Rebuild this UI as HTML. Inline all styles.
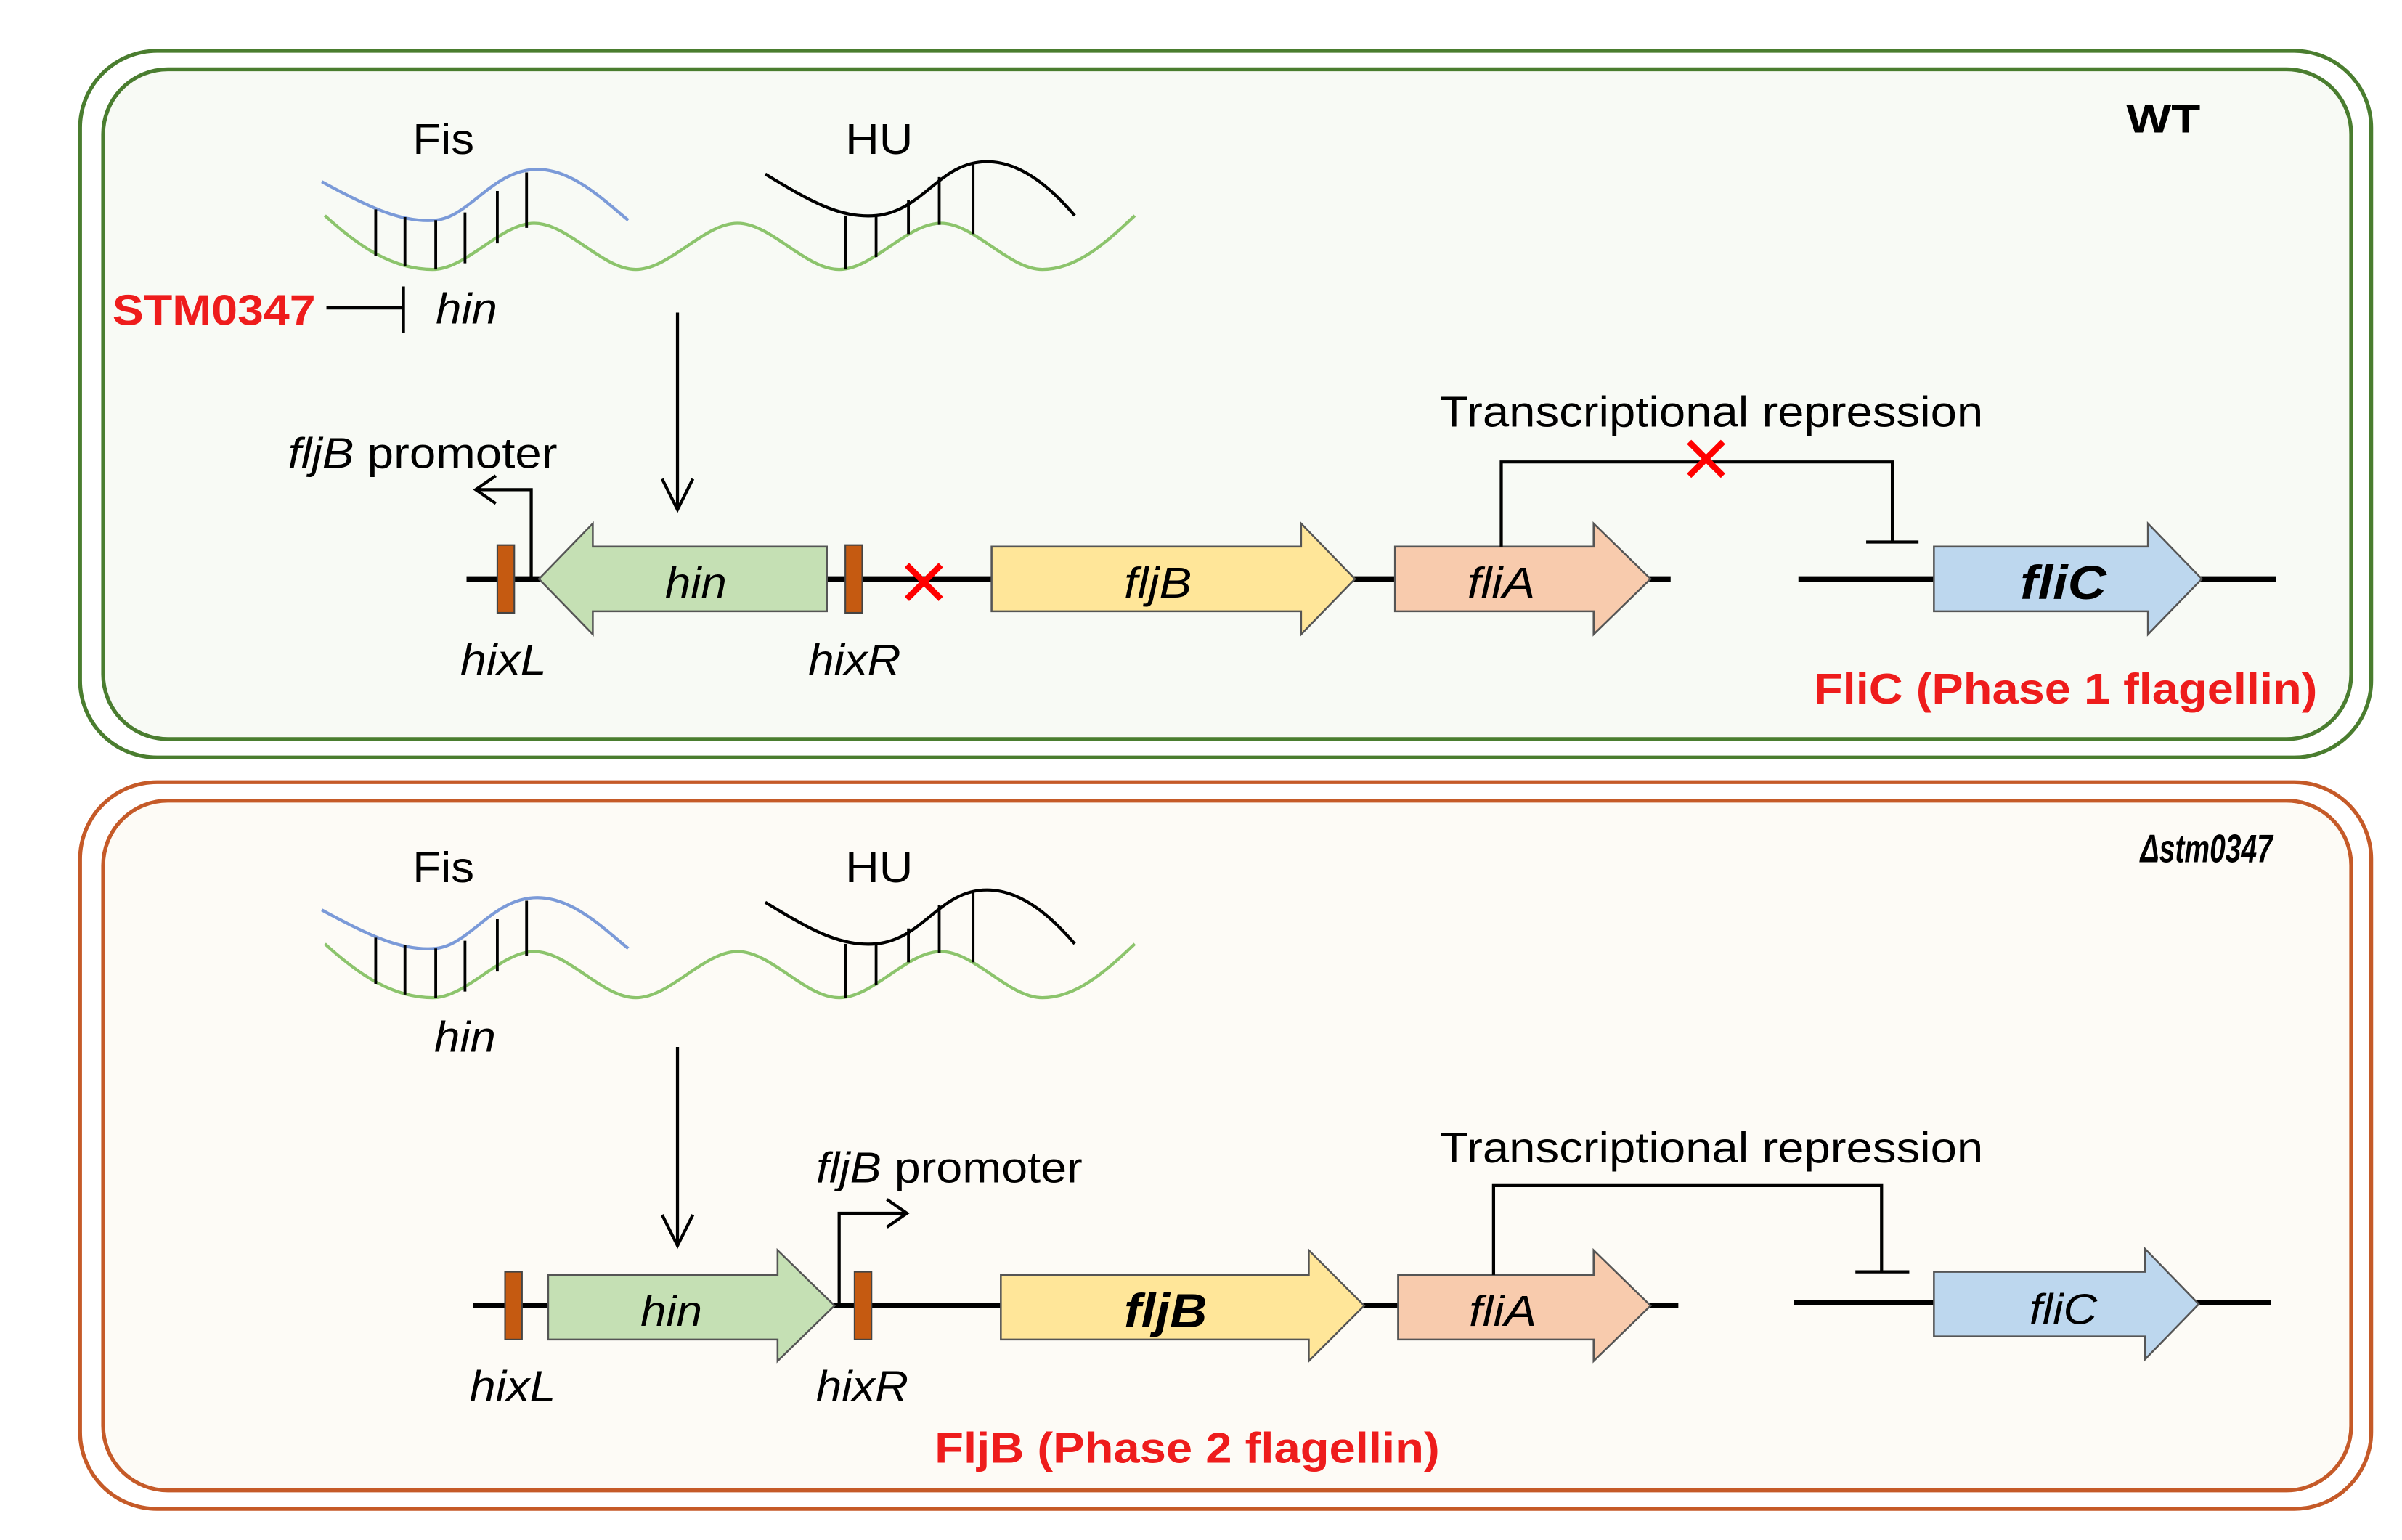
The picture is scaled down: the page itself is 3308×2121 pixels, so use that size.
<!DOCTYPE html>
<html><head><meta charset="utf-8"><style>
html,body{margin:0;padding:0;background:#fff;}
svg{display:block;}
text{font-family:"Liberation Sans",Arial,sans-serif;}
</style></head><body>
<svg width="3308" height="2121" viewBox="0 0 1560 1000.2" xmlns="http://www.w3.org/2000/svg">
<defs>
<g id="waves">
<path d="M211,140 C233,160 255,175 281,175 C303,175 325,145 347,145 C369,145 391,175 413,175 C435,175 457,145 479,145 C501,145 523,175 545,175 C567,175 589,145 611,145 C633,145 655,175 677,175 C699,175 718,158 737,140" fill="none" stroke="#8cc46c" stroke-width="2"/>
<path d="M209,118 C240,135 262,145 283,143 C305,141 320,110 349,110 C372,110 392,130 408,143" fill="none" stroke="#7b9ad8" stroke-width="2"/>
<path d="M497,113 C525,130 545,142 569,140 C600,137 610,105 641,105 C665,105 685,125 698,140" fill="none" stroke="#000" stroke-width="2"/>
<g stroke="#000" stroke-width="1.8">
<line x1="244" y1="136" x2="244" y2="166"/>
<line x1="263" y1="141" x2="263" y2="173"/>
<line x1="283" y1="143" x2="283" y2="175"/>
<line x1="302" y1="138" x2="302" y2="171"/>
<line x1="323" y1="124" x2="323" y2="158"/>
<line x1="342" y1="112" x2="342" y2="148"/>
<line x1="549" y1="140" x2="549" y2="175"/>
<line x1="569" y1="140" x2="569" y2="167"/>
<line x1="590" y1="130" x2="590" y2="152"/>
<line x1="610" y1="115" x2="610" y2="146"/>
<line x1="632" y1="106" x2="632" y2="152"/>
</g>
</g>
</defs>

<rect x="52" y="33" width="1488" height="459" rx="50" fill="#fff" stroke="#4a7d2f" stroke-width="2.5"/>
<rect x="67" y="45" width="1460" height="435" rx="42" fill="#f8faf5" stroke="#4a7d2f" stroke-width="2.5"/>
<rect x="52" y="508" width="1488" height="472" rx="50" fill="#fff" stroke="#c55a28" stroke-width="2.5"/>
<rect x="67" y="520" width="1460" height="448" rx="42" fill="#fdfbf6" stroke="#c55a28" stroke-width="2.5"/>

<!-- Panel 1 -->
<text x="288" y="100" font-size="28" text-anchor="middle" textLength="40" lengthAdjust="spacingAndGlyphs">Fis</text>
<text x="571" y="100" font-size="28" text-anchor="middle" textLength="44" lengthAdjust="spacingAndGlyphs">HU</text>
<use href="#waves"/>
<text x="73" y="211" font-size="28" font-weight="bold" fill="#ee1c1c" textLength="132" lengthAdjust="spacingAndGlyphs">STM0347</text>
<line x1="212" y1="200" x2="262" y2="200" stroke="#000" stroke-width="2"/>
<line x1="262" y1="186" x2="262" y2="216" stroke="#000" stroke-width="2"/>
<text x="283" y="210" font-size="28" font-style="italic" textLength="40" lengthAdjust="spacingAndGlyphs">hin</text>
<line x1="440" y1="203" x2="440" y2="330" stroke="#000" stroke-width="2"/>
<polyline points="430,311 440,331 450,311" fill="none" stroke="#000" stroke-width="2"/>

<text x="187" y="304" font-size="28" textLength="175" lengthAdjust="spacingAndGlyphs"><tspan font-style="italic">fljB</tspan> promoter</text>
<polyline points="345,376 345,318 310,318" fill="none" stroke="#000" stroke-width="2"/>
<polyline points="322,309 309,318 322,327" fill="none" stroke="#000" stroke-width="2"/>

<line x1="303" y1="376" x2="1085" y2="376" stroke="#000" stroke-width="3.5"/>
<line x1="1168" y1="376" x2="1478" y2="376" stroke="#000" stroke-width="3.5"/>
<rect x="323" y="354" width="11" height="44" fill="#c55a11" stroke="#444" stroke-width="1"/>
<polygon points="350,376 385,340 385,355 537,355 537,397 385,397 385,412" fill="#c5e0b4" stroke="#555" stroke-width="1.2"/>
<text x="452" y="388" font-size="28" font-style="italic" text-anchor="middle" textLength="40" lengthAdjust="spacingAndGlyphs">hin</text>
<rect x="549" y="354" width="11" height="44" fill="#c55a11" stroke="#444" stroke-width="1"/>
<g stroke="#f00" stroke-width="4"><line x1="589" y1="367" x2="611" y2="389"/><line x1="611" y1="367" x2="589" y2="389"/></g>
<polygon points="644,355 845,355 845,340 880,376 845,412 845,397 644,397" fill="#ffe699" stroke="#555" stroke-width="1.2"/>
<text x="752" y="388" font-size="28" font-style="italic" text-anchor="middle" textLength="44" lengthAdjust="spacingAndGlyphs">fljB</text>
<polygon points="906,355 1035,355 1035,340 1072,376 1035,412 1035,397 906,397" fill="#f8cbad" stroke="#555" stroke-width="1.2"/>
<text x="975" y="388" font-size="28" font-style="italic" text-anchor="middle" textLength="44" lengthAdjust="spacingAndGlyphs">fliA</text>
<polygon points="1256,355 1395,355 1395,340 1430,376 1395,412 1395,397 1256,397" fill="#bdd7ee" stroke="#555" stroke-width="1.2"/>
<text x="1340" y="389" font-size="31" font-style="italic" font-weight="bold" text-anchor="middle" textLength="56" lengthAdjust="spacingAndGlyphs">fliC</text>
<polyline points="975,355 975,300 1229,300 1229,352" fill="none" stroke="#000" stroke-width="2"/>
<line x1="1212" y1="352" x2="1246" y2="352" stroke="#000" stroke-width="2"/>
<g stroke="#f00" stroke-width="4"><line x1="1097" y1="287" x2="1119" y2="309"/><line x1="1119" y1="287" x2="1097" y2="309"/></g>
<text x="935" y="277" font-size="28" textLength="353" lengthAdjust="spacingAndGlyphs">Transcriptional repression</text>
<text x="1381" y="86" font-size="26" font-weight="bold" textLength="48" lengthAdjust="spacingAndGlyphs">WT</text>
<text x="327" y="438" font-size="28" font-style="italic" text-anchor="middle" textLength="56" lengthAdjust="spacingAndGlyphs">hixL</text>
<text x="555" y="438" font-size="28" font-style="italic" text-anchor="middle" textLength="60" lengthAdjust="spacingAndGlyphs">hixR</text>
<text x="1178" y="457" font-size="28" font-weight="bold" fill="#ee1c1c" textLength="327" lengthAdjust="spacingAndGlyphs">FliC (Phase 1 flagellin)</text>

<!-- Panel 2 -->
<text x="288" y="573" font-size="28" text-anchor="middle" textLength="40" lengthAdjust="spacingAndGlyphs">Fis</text>
<text x="571" y="573" font-size="28" text-anchor="middle" textLength="44" lengthAdjust="spacingAndGlyphs">HU</text>
<use href="#waves" transform="translate(0,473)"/>
<text x="302" y="683" font-size="28" font-style="italic" text-anchor="middle" textLength="40" lengthAdjust="spacingAndGlyphs">hin</text>
<line x1="440" y1="680" x2="440" y2="808" stroke="#000" stroke-width="2"/>
<polyline points="430,789 440,809 450,789" fill="none" stroke="#000" stroke-width="2"/>

<text x="530" y="768" font-size="28" textLength="173" lengthAdjust="spacingAndGlyphs"><tspan font-style="italic">fljB</tspan> promoter</text>
<polyline points="545,848 545,788 588,788" fill="none" stroke="#000" stroke-width="2"/>
<polyline points="576,779 589,788 576,797" fill="none" stroke="#000" stroke-width="2"/>

<line x1="307" y1="848" x2="1090" y2="848" stroke="#000" stroke-width="3.5"/>
<line x1="1165" y1="846" x2="1475" y2="846" stroke="#000" stroke-width="3.5"/>
<rect x="328" y="826" width="11" height="44" fill="#c55a11" stroke="#444" stroke-width="1"/>
<polygon points="356,828 505,828 505,812 542,848 505,884 505,870 356,870" fill="#c5e0b4" stroke="#555" stroke-width="1.2"/>
<text x="436" y="861" font-size="28" font-style="italic" text-anchor="middle" textLength="40" lengthAdjust="spacingAndGlyphs">hin</text>
<rect x="555" y="826" width="11" height="44" fill="#c55a11" stroke="#444" stroke-width="1"/>
<polygon points="650,828 850,828 850,812 886,848 850,884 850,870 650,870" fill="#ffe699" stroke="#555" stroke-width="1.2"/>
<text x="757" y="862" font-size="31" font-style="italic" font-weight="bold" text-anchor="middle" textLength="54" lengthAdjust="spacingAndGlyphs">fljB</text>
<polygon points="908,828 1035,828 1035,812 1072,848 1035,884 1035,870 908,870" fill="#f8cbad" stroke="#555" stroke-width="1.2"/>
<text x="976" y="861" font-size="28" font-style="italic" text-anchor="middle" textLength="44" lengthAdjust="spacingAndGlyphs">fliA</text>
<polygon points="1256,826 1393,826 1393,811 1428,847 1393,883 1393,868 1256,868" fill="#bdd7ee" stroke="#555" stroke-width="1.2"/>
<text x="1340" y="860" font-size="28" font-style="italic" text-anchor="middle" textLength="44" lengthAdjust="spacingAndGlyphs">fliC</text>
<polyline points="970,828 970,770 1222,770 1222,826" fill="none" stroke="#000" stroke-width="2"/>
<line x1="1205" y1="826" x2="1240" y2="826" stroke="#000" stroke-width="2"/>
<text x="935" y="755" font-size="28" textLength="353" lengthAdjust="spacingAndGlyphs">Transcriptional repression</text>
<text x="1390" y="560" font-size="26" font-weight="bold" font-style="italic" textLength="86" lengthAdjust="spacingAndGlyphs">Δstm0347</text>
<text x="333" y="910" font-size="28" font-style="italic" text-anchor="middle" textLength="56" lengthAdjust="spacingAndGlyphs">hixL</text>
<text x="560" y="910" font-size="28" font-style="italic" text-anchor="middle" textLength="60" lengthAdjust="spacingAndGlyphs">hixR</text>
<text x="607" y="950" font-size="28" font-weight="bold" fill="#ee1c1c" textLength="328" lengthAdjust="spacingAndGlyphs">FljB (Phase 2 flagellin)</text>
</svg>
</body></html>
